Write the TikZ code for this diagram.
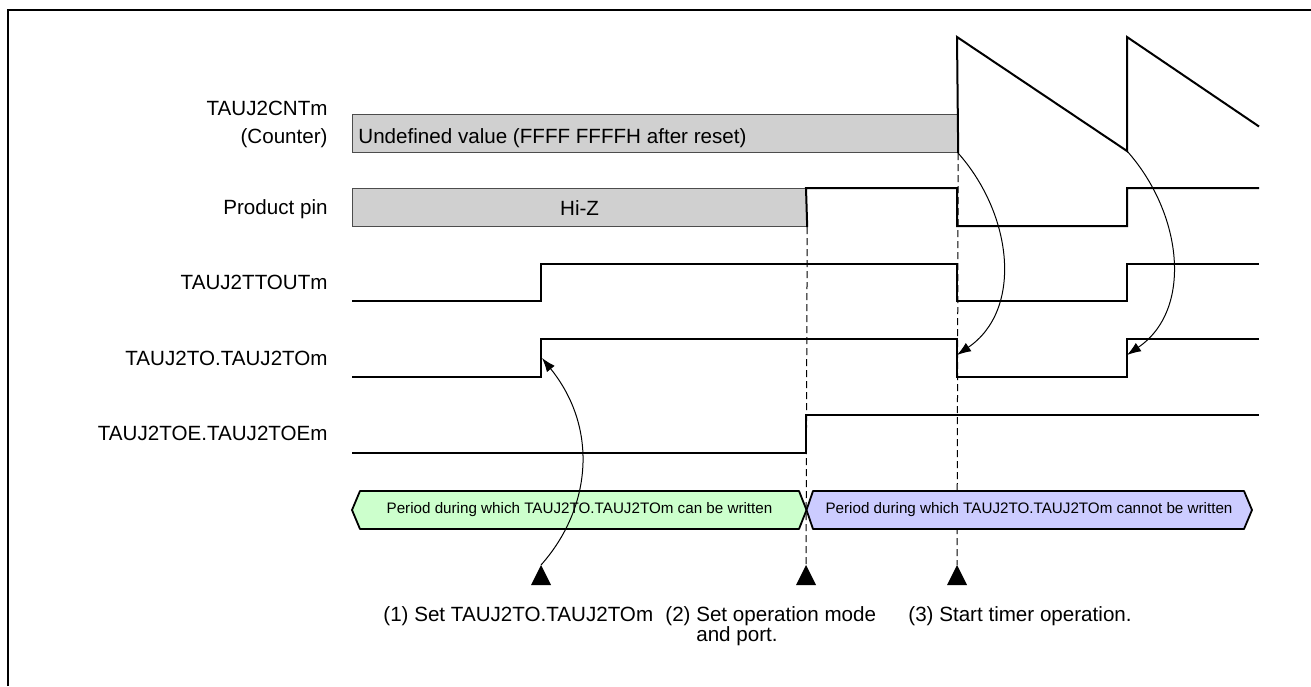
\documentclass[tikz,border=0pt]{standalone}
\usepackage{fontspec}
\setmainfont{Liberation Sans}
\usetikzlibrary{arrows.meta,positioning}
\definecolor{hizgray}{HTML}{D0D0D0}
\definecolor{canwrite}{HTML}{CCFFCC}
\definecolor{nowrite}{HTML}{CCCCFF}
\newcommand{\lblsize}{\fontsize{10.3}{14.2}\selectfont}
\newcommand{\persize}{\fontsize{7.6}{9}\selectfont}

\begin{document}
\begin{tikzpicture}[
  x=0.5pt, y=-0.5pt,
  lbl/.style={anchor=base east, inner sep=0pt, font=\lblsize},
  note/.style={anchor=base west, inner sep=0pt, font=\lblsize},
  wave/.style={line width=1pt, line join=miter},
  hiz/.style={draw=black!70, line width=0.6pt, fill=hizgray, inner sep=0pt,
    anchor=north west, minimum height=19pt},
  guide/.style={line width=0.5pt, dash pattern=on 3.5pt off 2pt},
  period/.style={draw, line width=0.9pt, line join=round},
  ptext/.style={inner sep=0pt, font=\persize},
  hook/.style={-{Latex[length=7pt,width=5pt]}, line width=0.5pt},
  frame/.style={line width=1pt}
]
\useasboundingbox (0,0) rectangle (1311,686);
\draw[frame] (8,686) -- (8,10) -- (1311,10);

\node[lbl] (lcnt) at (328,115) {TAUJ2CNTm};
\node[lbl] (lcntb) at (328,143.3) {(Counter)};
\node[lbl] (lpin) at (328,214.3) {Product pin};
\node[lbl] (ltout) at (328,289.5) {TAUJ2TTOUTm};
\node[lbl] (lto) at (328,365) {TAUJ2TO.TAUJ2TOm};
\node[lbl] (ltoe) at (328,440.7) {TAUJ2TOE.TAUJ2TOEm};

\coordinate (m1) at (541,565);
\coordinate (m2) at (806,565);
\coordinate (m3) at (957,565);
\coordinate (k2) at (1127,151);
\coordinate (e1) at (542,358);
\coordinate (e2) at (957,355);
\coordinate (e3) at (1127,355);

\node[hiz, minimum width=302.5pt] (cnt) at (352,114) {};
\node[note] (undef) at (358,143.3) {Undefined value (FFFF FFFFH after reset)};
\node[hiz, minimum width=227pt, font=\lblsize] (hz) at (352,188) {Hi-Z};

\draw[guide] (hz.south east) -- (m2);
\draw[guide] (cnt.south east) -- (m3);

\draw[wave] (cnt.south east) -- (957,37) -- (k2) -- (1127,37) -- (1259,126.5);
\draw[wave] (hz.south east) -- (806,188) -- (957,188) -- (957,226)
  -- (1127,226) -- (1127,188) -- (1259,188);
\draw[wave] (352,301) -- (541,301) -- (541,264) -- (957,264) -- (957,301)
  -- (1127,301) -- (1127,264) -- (1259,264);
\draw[wave] (352,377) -- (541,377) -- (541,339) -- (957,339) -- (957,377)
  -- (1127,377) -- (1127,339) -- (1259,339);
\draw[wave] (352,453) -- (806,453) -- (806,415) -- (1259,415);

\draw[period, fill=canwrite] (352,510) -- (360,491) -- (799,491) -- (806.5,510)
  -- (799,529) -- (360,529) -- cycle;
\draw[period, fill=nowrite] (806.5,510) -- (813,491) -- (1244,491) -- (1252,510)
  -- (1244,529) -- (813,529) -- cycle;
\node[ptext] (pcan) at (579.5,510) {Period during which TAUJ2TO.TAUJ2TOm can be written};
\node[ptext] (pcannot) at (1029,510) {Period during which TAUJ2TO.TAUJ2TOm cannot be written};

\foreach \m in {m1,m2,m3}
  \fill (\m) -- ++(-10,20) -- ++(20,0) -- cycle;

\draw[hook] (m1) .. controls (590,510) and (600,430) .. (e1);
\draw[hook] (cnt.south east) .. controls (1013,215) and (1023,310) .. (e2);
\draw[hook] (k2) .. controls (1183,214) and (1193,310) .. (e3);

\node[note] (n1) at (383,621.5) {(1) Set TAUJ2TO.TAUJ2TOm};
\node[note] (n2) at (665,621.5) {(2) Set operation mode};
\node[note] (n2b) at (n2.base west) [yshift=-10pt] {\phantom{(2) }and port.};
\node[note] (n3) at (908,621.5) {(3) Start timer operation.};
\end{tikzpicture}
\end{document}
